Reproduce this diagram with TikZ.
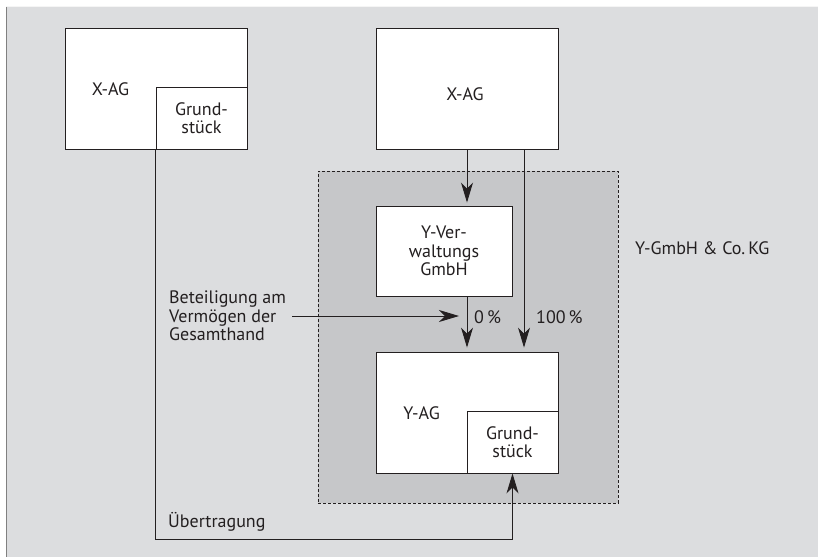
\documentclass[tikz,border=0pt]{standalone}
\usepackage{fontspec}
\setmainfont{PT Sans}
\usetikzlibrary{arrows.meta,calc}
\definecolor{hintergrund}{RGB}{220,221,223}
\definecolor{kgfarbe}{RGB}{198,199,201}
\definecolor{linie}{RGB}{35,31,32}

\begin{document}
\begin{tikzpicture}[x=1pt,y=-1pt,
                font=\fontsize{18}{18.5}\selectfont,
                kasten/.style={draw=linie,line width=0.9pt,fill=white,inner sep=0pt,align=center,text=linie},
                schrift/.style={text=linie,inner sep=0pt,align=center},
                pfeil/.style={draw=linie,line width=0.9pt,-{Stealth[length=20pt,width=12pt,inset=6pt]}},
                linienzug/.style={draw=linie,line width=0.9pt}]
                \useasboundingbox (0,0) rectangle (818,557);
                \fill[hintergrund] (6,6) rectangle (818,557);
                \draw[gray,line width=0.8pt] (6,6) -- (6,557);
                \fill[white!70!hintergrund] (6,6) rectangle (818,7);

                \node[draw=linie,line width=0.8pt,dash pattern=on 3pt off 2pt,fill=kgfarbe,
                      minimum width=300pt,minimum height=332pt,inner sep=0pt] (kg) at (468,337) {};
                \node[schrift,anchor=west] (kgtext) at (635,248) {Y-GmbH \& Co.\,KG};

                \node[kasten,minimum width=182pt,minimum height=121pt] (xag1) at (156,88.5) {};
                \node[kasten,minimum width=91pt,minimum height=62pt] (grund1) at (201.5,118) {Grund-\\stück};
                \node[schrift] (xag1text) at (110.5,89) {X-AG};

                \node[kasten,minimum width=182pt,minimum height=121pt] (xag2) at (467,88.5) {};
                \node[schrift] (xag2text) at (465,94.5) {X-AG};

                \node[kasten,minimum width=136pt,minimum height=90pt] (yverw) at (444,251) {Y-Ver-\\waltungs\\GmbH};

                \node[kasten,minimum width=182pt,minimum height=121pt] (yag) at (467,412.5) {};
                \node[kasten,minimum width=91pt,minimum height=62pt] (grund2) at (512.5,442) {Grund-\\stück};
                \node[schrift] (yagtext) at (421.5,413) {Y-AG};

                \node[schrift,align=left,anchor=west,inner xsep=6pt] (beteil) at (163,316) {Beteiligung am\\Vermögen der\\Gesamthand};
                \coordinate (beteilziel) at (459,316);
                \node[schrift,anchor=west] (null) at (474,317) {0\,\%};
                \node[schrift,anchor=west] (hundert) at (536,317) {100\,\%};
                \node[schrift,anchor=west] (uebertrag) at (168,522) {Übertragung};
                \coordinate (knick) at (512.5,539);

                \draw[pfeil,shorten >=3pt] (xag2.south) -- (xag2.south |- yverw.north);
                \draw[pfeil,shorten >=4pt] (xag2.south |- yverw.south) -- (yag.north);
                \draw[pfeil,shorten >=4pt] ([xshift=57pt]xag2.south) -- ([xshift=57pt]yag.north);
                \draw[pfeil] (beteil.east) -- (beteilziel);
                \draw[linienzug] (grund1.south west) |- (knick);
                \draw[pfeil] (knick) -- (grund2.south);

            \end{tikzpicture}
\end{document}
